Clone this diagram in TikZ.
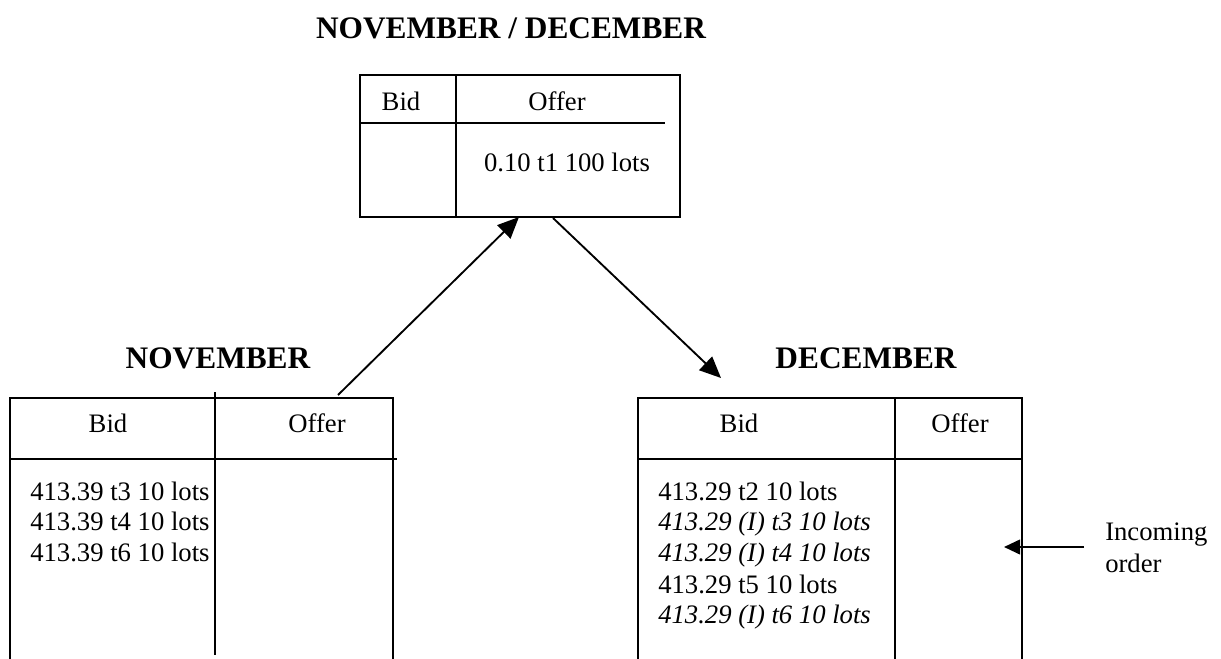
\documentclass[tikz,border=0pt]{standalone}
\usepackage{fontspec}
\setmainfont{Liberation Serif}
\usetikzlibrary{arrows.meta}
\tikzset{
  tline/.style={line width=1.4pt},
  cell/.style={font=\fontsize{20}{24}\selectfont, inner sep=0pt, anchor=base},
  row/.style={font=\fontsize{20}{24}\selectfont, inner sep=0pt, anchor=base west},
  ttl/.style={font=\fontsize{23.5}{28}\selectfont\bfseries, inner sep=0pt},
  bigarrow/.style={line width=1.4pt, -{Triangle[length=16pt,width=14pt]}},
  smallarrow/.style={line width=1.4pt, -{Triangle[length=12pt,width=11pt]}}
}
\begin{document}
\begin{tikzpicture}[x=0.75pt,y=-0.75pt]
\useasboundingbox (0,0) rectangle (1221,659);
% titles
\node[ttl] (tt) at (511,28) {NOVEMBER / DECEMBER};
\node[ttl] (tl) at (218,358) {NOVEMBER};
\node[ttl] (tr) at (866,358) {DECEMBER};
% top box
\node[draw, tline, rectangle, minimum width=240pt, minimum height=106.5pt, inner sep=0pt] (top) at (520,146) {};
\draw[tline] (456,75) -- (456,217);
\draw[tline] (360,123) -- (665,123);
\node[cell] (tbid) at (401,111) {Bid};
\node[cell] (toff) at (557,111) {Offer};
\node[cell] (tval) at (567,172) {0.10 t1 100 lots};
% left box
\draw[tline] (10,659) -- (10,398) -- (393,398) -- (393,659);
\draw[tline] (215,392) -- (215,655);
\draw[tline] (10,459) -- (397,459);
\node[cell] (lbid) at (108,432) {Bid};
\node[cell] (loff) at (317,432) {Offer};
\node[row] (l1) at (30,500) {413.39 t3 10 lots};
\node[row] (l2) at (30,530) {413.39 t4 10 lots};
\node[row] (l3) at (30,561) {413.39 t6 10 lots};
% right box
\draw[tline] (638,659) -- (638,398) -- (1022,398) -- (1022,659);
\draw[tline] (895,398) -- (895,659);
\draw[tline] (638,459) -- (1022,459);
\node[cell] (rbid) at (739,432) {Bid};
\node[cell] (roff) at (960,432) {Offer};
\node[row] (r1) at (658,500) {413.29 t2 10 lots};
\node[row] (r2) at (658,530) {\itshape 413.29 (I) t3 10 lots};
\node[row] (r3) at (658,561) {\itshape 413.29 (I) t4 10 lots};
\node[row] (r4) at (658,593) {413.29 t5 10 lots};
\node[row] (r5) at (658,623) {\itshape 413.29 (I) t6 10 lots};
% connectors
\coordinate (lfrom) at (338,395);
\coordinate (topin) at (519,217);
\coordinate (topout) at (553,218);
\coordinate (rto) at (721,378);
\draw[bigarrow] (lfrom) -- (topin);
\draw[bigarrow] (topout) -- (rto);
% incoming order
\node[row] (inc1) at (1105,540) {Incoming};
\node[row] (inc2) at (1105,572) {order};
\coordinate (incstart) at (1084,547);
\coordinate (incend) at (1004,547);
\draw[smallarrow] (incstart) -- (incend);
\end{tikzpicture}
\end{document}
